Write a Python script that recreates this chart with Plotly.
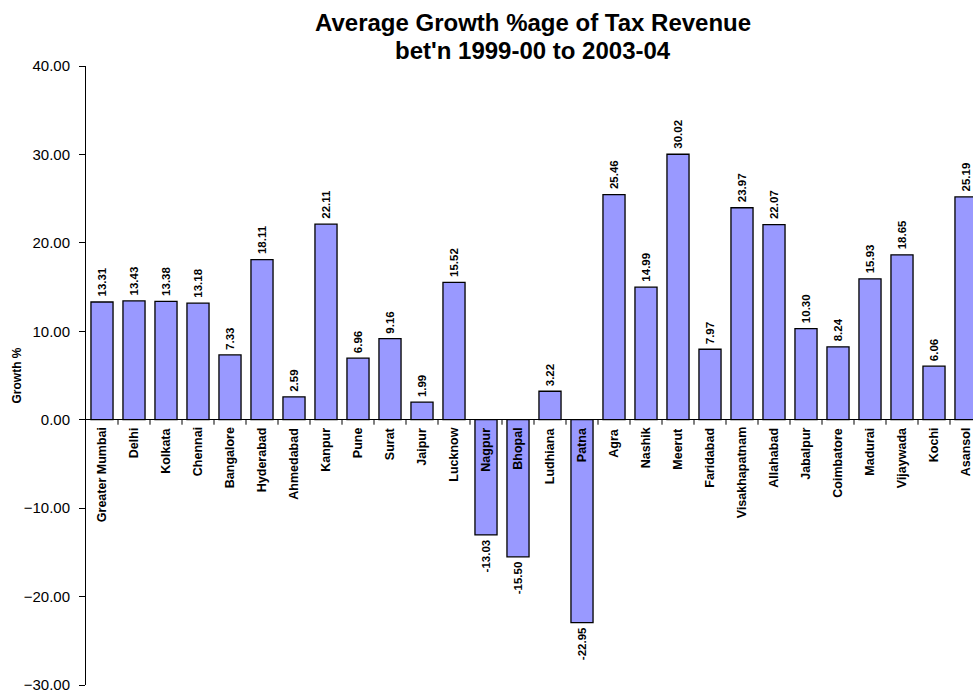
import plotly.graph_objects as go

# Average growth of tax revenue by city, 1999-00 to 2003-04
cities = [
    "Greater Mumbai", "Delhi", "Kolkata", "Chennai", "Bangalore", "Hyderabad",
    "Ahmedabad", "Kanpur", "Pune", "Surat", "Jaipur", "Lucknow", "Nagpur",
    "Bhopal", "Ludhiana", "Patna", "Agra", "Nashik", "Meerut", "Faridabad",
    "Visakhapatnam", "Allahabad", "Jabalpur", "Coimbatore", "Madurai",
    "Vijaywada", "Kochi", "Asansol",
]
growth = [
    13.31, 13.43, 13.38, 13.18, 7.33, 18.11,
    2.59, 22.11, 6.96, 9.16, 1.99, 15.52, -13.03,
    -15.50, 3.22, -22.95, 25.46, 14.99, 30.02, 7.97,
    23.97, 22.07, 10.30, 8.24, 15.93,
    18.65, 6.06, 25.19,
]
y_ticks = [-30, -20, -10, 0, 10, 20, 30, 40]

FONT = "Liberation Sans, Arial, sans-serif"
BAR_COLOR = "#9999FF"

W, H = 973, 694
ML, MR, MT, MB = 86, 0, 66, 9
pw, ph = W - ML - MR, H - MT - MB

idx = list(range(len(cities)))

fig = go.Figure()
fig.add_trace(go.Bar(
    x=idx,
    y=growth,
    width=0.69,
    marker=dict(color=BAR_COLOR, line=dict(color="black", width=1.3)),
    hovertext=cities,
))

annotations = []
for i, (name, v) in enumerate(zip(cities, growth)):
    # City names sit just under the zero line, rotated
    annotations.append(dict(
        x=i, y=0, xref="x", yref="y",
        text=f"<b>{name}</b>", showarrow=False,
        textangle=-90, xanchor="center", yanchor="top", yshift=-6,
        font=dict(family=FONT, size=12.5, color="black"),
    ))
    # Value label at the end of each bar
    annotations.append(dict(
        x=i, y=v, xref="x", yref="y",
        text=f"<b>{v:.2f}</b>", showarrow=False,
        textangle=-90, xanchor="center",
        yanchor="bottom" if v >= 0 else "top",
        yshift=3 if v >= 0 else -3,
        font=dict(family=FONT, size=11.5, color="black"),
    ))


def px_to_paper(x, y):
    return (x - ML) / pw, 1 - (y - MT) / ph


# Two-line chart title
for text, (tx, ty) in [
    ("Average Growth %age of Tax Revenue", (533, 22)),
    ("bet'n 1999-00 to 2003-04", (533, 50)),
]:
    px, py = px_to_paper(tx, ty)
    annotations.append(dict(
        x=px, y=py, xref="paper", yref="paper", text=f"<b>{text}</b>",
        showarrow=False, xanchor="center", yanchor="middle",
        font=dict(family=FONT, size=24, color="black"),
    ))

# Y axis title
annotations.append(dict(
    x=0, y=0.5, xref="paper", yref="paper", text="<b>Growth %</b>",
    showarrow=False, textangle=-90, xanchor="center", yanchor="middle", xshift=-70,
    font=dict(family=FONT, size=12, color="black"),
))

# Category separator ticks hanging from the zero line
shapes = []
for i in range(len(cities) - 1):
    shapes.append(dict(
        type="line", xref="x", yref="y",
        x0=i + 0.5, x1=i + 0.5,
        ysizemode="pixel", yanchor=0, y0=0, y1=-5,
        line=dict(color="black", width=1),
    ))

cat_px = 32.0
fig.update_layout(
    width=W, height=H,
    margin=dict(l=ML, r=MR, t=MT, b=MB),
    paper_bgcolor="white",
    plot_bgcolor="white",
    showlegend=False,
    annotations=annotations,
    shapes=shapes,
    font=dict(family=FONT, color="black"),
    xaxis=dict(
        range=[-0.5, -0.5 + pw / cat_px],
        showticklabels=False, showgrid=False, zeroline=False,
        showline=False, ticks="",
    ),
    yaxis=dict(
        range=[-30, 40],
        tickvals=y_ticks,
        tickformat=".2f",
        ticks="outside", ticklen=6, tickcolor="black", tickwidth=1,
        showline=True, linecolor="black", linewidth=1,
        showgrid=False,
        zeroline=True, zerolinecolor="black", zerolinewidth=1,
        tickfont=dict(family=FONT, size=15, color="black"),
        ticklabelstandoff=6,
    ),
)

fig.write_html("out.html")
